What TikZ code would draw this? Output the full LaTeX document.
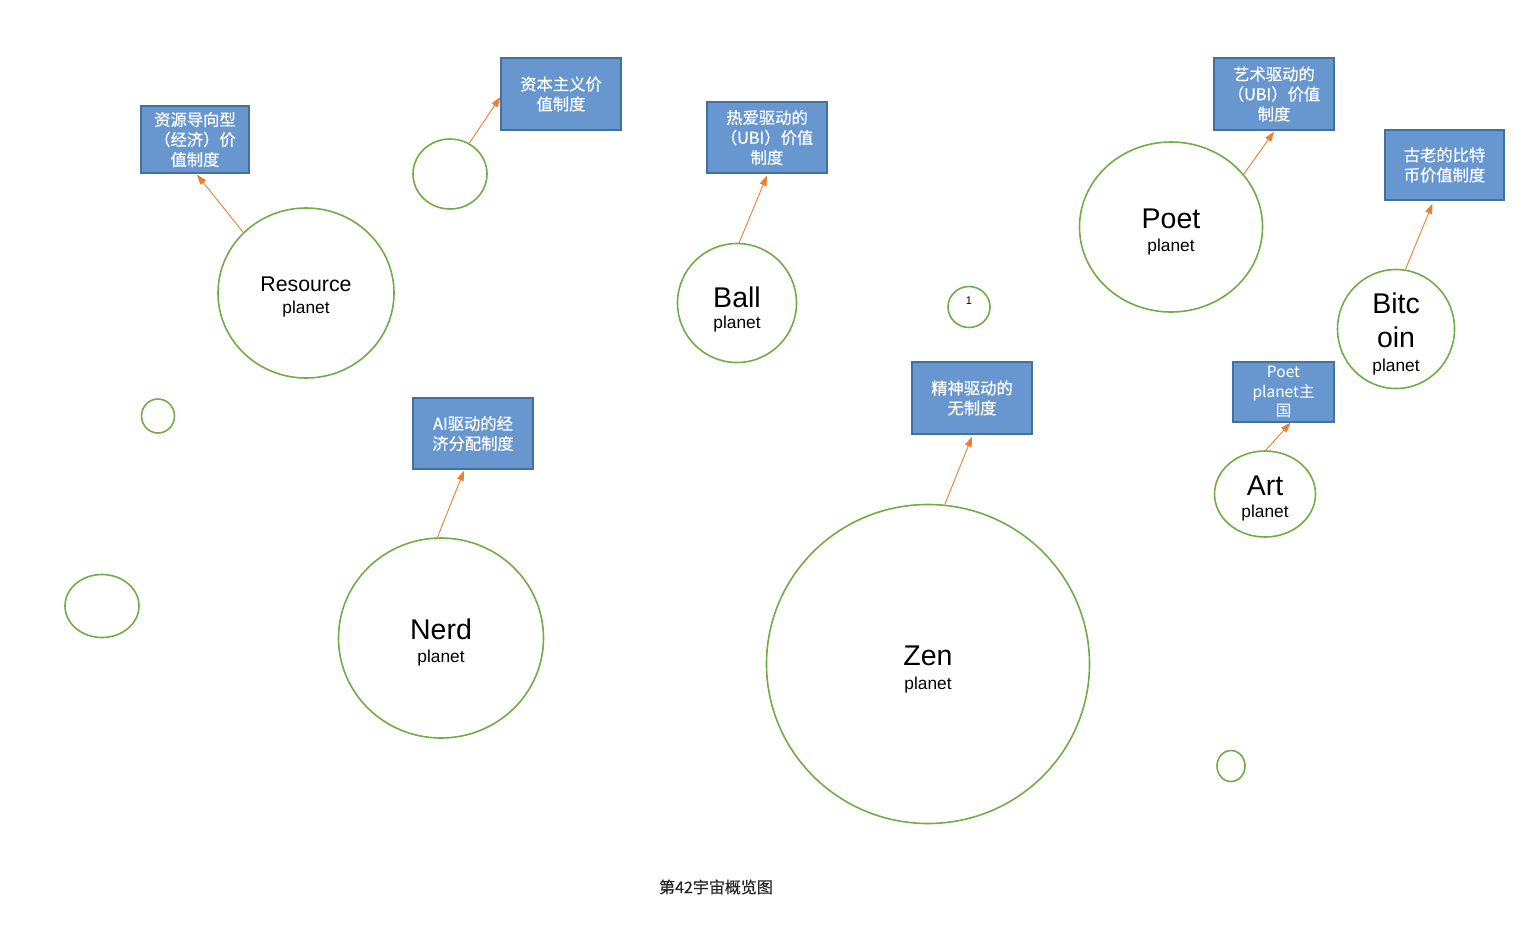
\documentclass[tikz,border=0pt]{standalone}
\usepackage{fontspec}
\setmainfont{Liberation Sans}
\newfontfamily\cjk{Noto Sans CJK SC}
\newfontfamily\cjkbox[FakeBold=0.4]{Noto Sans CJK SC}
\usetikzlibrary{shapes.geometric,arrows.meta}
\definecolor{planetgreen}{HTML}{70AD47}
\definecolor{boxfill}{HTML}{6897D0}
\definecolor{boxedge}{HTML}{41719C}
\definecolor{linkorange}{HTML}{ED7D31}
\begin{document}
\begin{tikzpicture}[x=1pt,y=-1pt,
  planet/.style={ellipse, draw=planetgreen, line width=1.6pt, inner sep=0pt},
  vbox/.style={rectangle, draw=boxedge, fill=boxfill, line width=1.3pt, inner sep=0pt,
    align=center, text=white, font=\cjkbox\fontsize{16.3}{20}\selectfont,
    minimum width=120pt, minimum height=72pt},
  bigname/.style={anchor=base, inner sep=0pt, text=black, font=\fontsize{28.5}{30}\selectfont},
  midname/.style={anchor=base, inner sep=0pt, text=black, font=\fontsize{21.3}{24}\selectfont},
  sub/.style={anchor=base, inner sep=0pt, text=black, font=\fontsize{17.3}{19}\selectfont},
  link/.style={draw=linkorange, line width=0.9pt, -{Triangle[length=10pt,width=7pt]}}]
\useasboundingbox (0,0) rectangle (1538,930);

% planets
\node[planet, minimum width=176pt, minimum height=170pt] (res) at (306,293) {};
\node[planet, minimum width=74pt, minimum height=70pt] (cap) at (450,174) {};
\node[planet, minimum width=119pt, minimum height=119pt] (ball) at (737,303) {};
\node[planet, minimum width=42pt, minimum height=41pt] (one) at (969,307) {};
\node[planet, minimum width=183pt, minimum height=170pt] (poet) at (1171,227) {};
\node[planet, minimum width=117pt, minimum height=119pt] (btc) at (1396,329) {};
\node[planet, minimum width=101pt, minimum height=86pt] (art) at (1265,494) {};
\node[planet, minimum width=205pt, minimum height=200pt] (nerd) at (441,638) {};
\node[planet, minimum width=323pt, minimum height=319pt] (zen) at (928,664) {};
\node[planet, minimum width=33pt, minimum height=34pt] (s1) at (158,416) {};
\node[planet, minimum width=74pt, minimum height=63pt] (s2) at (102,606) {};
\node[planet, minimum width=28pt, minimum height=31pt] (s3) at (1231,766) {};

% planet labels
\node[midname] (resn) at (306,291) {Resource};
\node[sub] (resp) at (306,313) {planet};
\node[bigname] (balln) at (737,307) {Ball};
\node[sub] (ballp) at (737,328) {planet};
\node[anchor=base, inner sep=0pt, font=\fontsize{11}{12}\selectfont] (onet) at (969,304) {1};
\node[bigname] (poetn) at (1171,228) {Poet};
\node[sub] (poetp) at (1171,251) {planet};
\node[bigname] (btcn1) at (1396,313) {Bitc};
\node[bigname] (btcn2) at (1396,347) {oin};
\node[sub] (btcp) at (1396,371) {planet};
\node[bigname] (artn) at (1265,495) {Art};
\node[sub] (artp) at (1265,517) {planet};
\node[bigname] (nerdn) at (441,639) {Nerd};
\node[sub] (nerdp) at (441,662) {planet};
\node[bigname] (zenn) at (928,665) {Zen};
\node[sub] (zenp) at (928,689) {planet};

% value-system boxes
\node[vbox, minimum width=108pt, minimum height=67pt] (b1) at (195,139.5) {资源导向型\\（经济）价\\值制度};
\node[vbox] (b2) at (561,94) {资本主义价\\值制度};
\node[vbox, minimum height=71pt] (b3) at (767,137.5) {热爱驱动的\\（UBI）价值\\制度};
\node[vbox] (b4) at (1274,94) {艺术驱动的\\（UBI）价值\\制度};
\node[vbox, minimum width=119pt, minimum height=70pt] (b5) at (1444.5,165) {古老的比特\\币价值制度};
\node[vbox] (b6) at (972,398) {精神驱动的\\无制度};
\node[vbox, minimum width=101pt, minimum height=60pt, font=\cjk\fontsize{15.5}{19.5}\selectfont] (b7) at (1283.5,392) {Poet\\planet主\\国};
\node[vbox, minimum height=71pt] (b8) at (473,433.5) {AI驱动的经\\济分配制度};

% connectors
\draw[link] (res.136) -- ([xshift=2pt,yshift=-1pt]b1.south);
\draw[link] (cap.58) -- ([yshift=-3pt]b2.west);
\draw[link] (ball.88) -- ([yshift=-2pt]b3.south);
\draw[link] (poet.36) -- ([yshift=-1pt]b4.south);
\draw[link] (btc.81) -- ([xshift=-12pt,yshift=-3pt]b5.south);
\draw[link] (zen.84) -- ([yshift=-2pt]b6.south);
\draw[link] (art.89) -- ([xshift=7pt]b7.south);
\draw[link] (nerd.92) -- ([xshift=-9pt,yshift=-1pt]b8.south);

% caption
\node[inner sep=0pt, font=\cjkbox\fontsize{16}{19}\selectfont, text=black!85] (cap42) at (716,887) {第42宇宙概览图};
\end{tikzpicture}
\end{document}
